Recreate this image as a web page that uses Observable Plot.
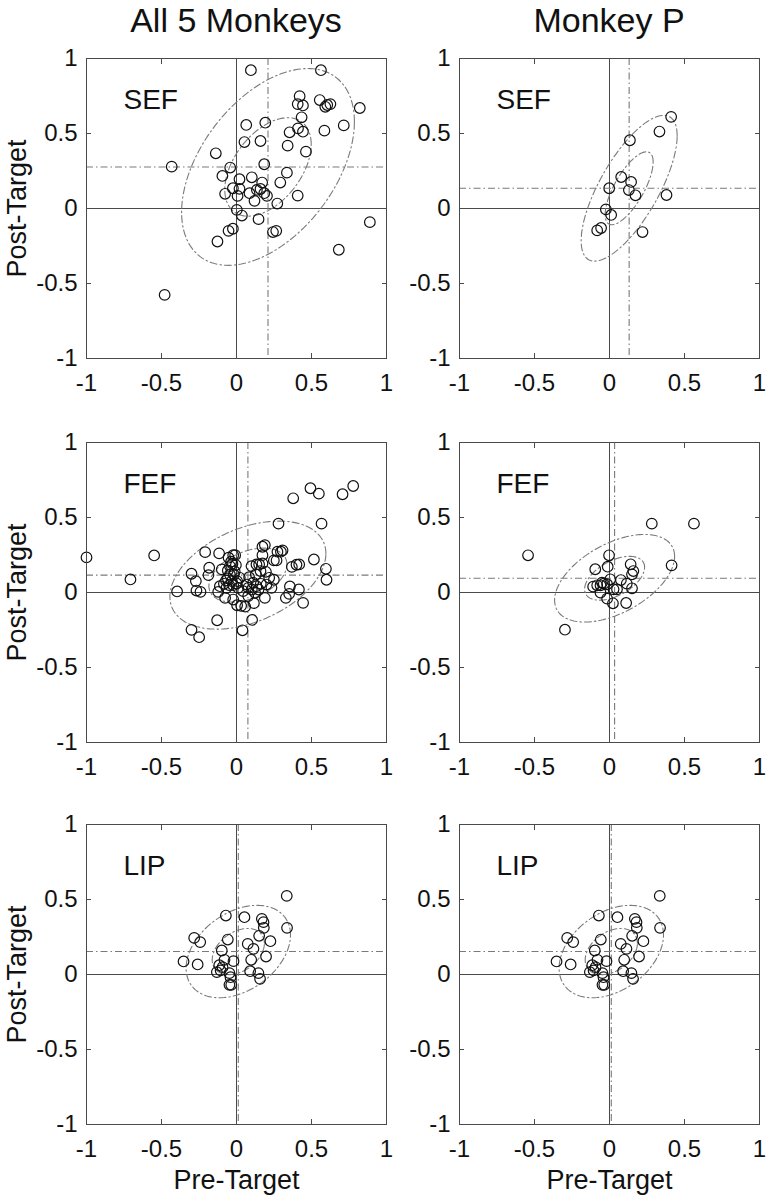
<!DOCTYPE html>
<html><head><meta charset="utf-8">
<script src="https://cdn.jsdelivr.net/npm/d3@7"></script>
<script src="https://cdn.jsdelivr.net/npm/@observablehq/plot@0.6"></script>
<style>
body{margin:0;background:#fff;}
#wrap{position:relative;width:767px;height:1199px;font-family:"Liberation Sans",Arial,Helvetica,sans-serif;overflow:hidden;}
.title{position:absolute;top:3px;height:34px;line-height:34px;font-size:34px;text-align:center;color:#111;width:300px;}
.panel{position:absolute;}
</style></head><body><div id="wrap"></div>
<script>
// ---------- data ----------
const columnTitles = ["All 5 Monkeys", "Monkey P"];
const panelNames = ["SEF", "SEF", "FEF", "FEF", "LIP", "LIP"];
const xLabel = "Pre-Target";
const yLabel = "Post-Target";
const tickValues = [-1, -0.5, 0, 0.5, 1];
const axisDomain = [-1, 1];
const zeroLine = [0];

const sefAll = [
  [0.096,0.922],[0.563,0.922],[0.421,0.749],[0.408,0.696],[0.443,0.687],[0.555,0.723],
  [0.592,0.678],[0.626,0.696],[0.605,0.690],[0.822,0.670],[0.434,0.608],[0.065,0.557],[0.192,0.572],
  [0.410,0.534],[0.354,0.508],[0.443,0.512],[0.586,0.519],[0.715,0.554],[0.053,0.443],
  [0.160,0.450],[0.341,0.419],[0.463,0.379],[-0.138,0.368],[-0.432,0.279],[-0.042,0.273],
  [0.185,0.295],[-0.094,0.217],[0.336,0.239],[0.102,0.208],[0.020,0.195],[0.171,0.173],
  [0.292,0.173],[-0.024,0.135],[0.020,0.131],[-0.076,0.098],[0.087,0.102],[0.136,0.124],
  [0.185,0.102],[0.007,0.084],[0.120,0.051],[0.203,0.084],[0.408,0.086],[0.272,0.033],
  [0.002,-0.009],[0.036,-0.047],[0.147,-0.071],[-0.053,-0.149],[-0.024,-0.135],[0.243,-0.157],
  [0.265,-0.149],[-0.127,-0.220],[0.889,-0.091],[0.682,-0.275],[-0.479,-0.576],[0.160,0.130]
];
const sefP = [
  [0.411,0.611],[0.333,0.513],[0.136,0.455],[0.078,0.210],[0.144,0.177],[-0.002,0.135],
  [0.129,0.123],[0.173,0.088],[0.380,0.090],[-0.024,-0.006],[0.011,-0.043],[-0.056,-0.130],
  [-0.082,-0.146],[0.220,-0.157]
];
const fefAll = [
  [-1.0,0.234],[-0.707,0.087],[-0.549,0.247],[-0.396,0.007],[-0.30,0.125],[-0.271,0.076],
  [-0.267,0.013],[-0.24,0.004],[-0.209,0.269],[-0.182,0.165],[-0.187,0.116],[-0.122,0.004],
  [-0.116,0.261],[-0.098,0.154],[-0.111,0.042],[-0.076,-0.036],[-0.129,-0.185],[-0.30,-0.249],
  [-0.249,-0.298],
  [-0.053,0.232],[-0.022,0.249],[-0.009,0.249],[-0.044,0.176],[-0.027,0.192],[-0.004,0.183],
  [-0.058,0.147],[-0.044,0.12],[-0.018,0.12],[-0.058,0.094],[-0.031,0.076],[-0.084,0.058],
  [-0.049,0.049],[-0.022,0.049],[0.004,0.076],[0.022,0.098],[0.011,0.031],[-0.022,-0.047],
  [0.004,-0.085],[0.031,-0.089],[0.058,-0.094],[0.04,-0.252],[-0.067,0.031],[0.044,0.009],
  [-0.036,0.205],[-0.012,0.14],[0.0,0.06],[-0.07,0.08],
  [0.078,-0.024],[0.116,-0.071],[0.104,-0.183],[0.067,0.053],[0.084,0.102],[0.1,0.176],
  [0.133,0.187],[0.151,0.187],[0.129,0.12],[0.16,0.143],[0.111,0.065],[0.133,0.042],
  [0.102,0.02],[0.124,-0.002],[0.162,0.058],[0.147,0.02],[0.078,0.031],[0.173,0.249],
  [0.189,0.316],[0.173,0.305],[0.173,0.194],[0.2,0.053],[0.189,-0.036],[0.218,0.098],[0.196,0.138],
  [0.249,0.214],[0.267,0.214],[0.273,0.272],[0.296,0.272],[0.307,0.281],[0.28,0.459],
  [0.249,0.085],[0.233,0.031],[0.329,-0.036],[0.351,-0.009],[0.356,0.04],[0.369,0.171],
  [0.4,0.185],[0.418,0.187],[0.416,0.02],[0.444,-0.069],[0.378,0.628],[0.493,0.695],
  [0.549,0.659],[0.567,0.459],[0.516,0.22],[0.596,0.158],[0.6,0.085],[0.707,0.655],[0.778,0.71]
];
const fefP = [
  [-0.543,0.248],[-0.297,-0.248],[0.282,0.459],[0.563,0.459],[0.414,0.181],[-0.003,0.248],
  [-0.012,0.172],[-0.095,0.155],[0.141,0.188],[0.159,0.143],[0.15,0.121],[0.076,0.083],
  [0.115,0.059],[0.15,0.028],[0.005,0.088],[-0.05,0.066],[-0.06,0.048],[-0.109,0.039],
  [-0.016,0.055],[0.027,0.021],[0.05,0.021],[-0.06,-0.001],[-0.016,-0.041],[0.023,-0.072],
  [0.111,-0.07],[-0.038,0.059],[-0.082,0.048]
];
const lip = [
  [0.335,0.524],[0.337,0.311],[-0.071,0.393],[0.053,0.382],[0.169,0.371],[0.18,0.349],
  [0.182,0.311],[0.151,0.258],[0.226,0.222],[-0.058,0.233],[-0.282,0.244],[-0.242,0.216],
  [0.075,0.204],[0.113,0.171],[0.197,0.12],[0.098,0.098],[0.091,0.022],[0.146,0.009],
  [0.157,-0.029],[-0.098,0.16],[-0.08,0.098],[-0.02,0.089],[-0.353,0.087],[-0.259,0.067],
  [-0.115,0.062],[-0.093,0.049],[-0.131,0.016],[-0.106,0.027],[-0.047,0.009],[-0.04,-0.018],
  [-0.047,-0.069],[-0.035,-0.069]
];
const panelData = [sefAll, sefP, fefAll, fefP, lip, lip];

// population mean (dash-dot cross) and spread (1 and 2 SD ellipses), per panel
const meanX = [0.21, 0.131, 0.076, 0.034, 0.012, 0.012];
const meanY = [0.277, 0.135, 0.116, 0.095, 0.153, 0.153];
const sdX   = [0.288, 0.16, 0.26, 0.20, 0.174, 0.174];
const sdY   = [0.328, 0.243, 0.18, 0.146, 0.154, 0.154];
const corrXY = [0.46, 0.72, 0.40, 0.50, 0.36, 0.36];
const ellipseK = [1, 2];

// ---------- layout / style ----------
const FRAME = 300;
const colLeft = [86, 459];
const rowTop = [58, 442, 824];
const frameColor = "#4a4a4a";
const dashColor = "#7a7a7a";
const dashPattern = "7,3,1.5,3";
const fontFamily = '"Liberation Sans", Arial, Helvetica, sans-serif';
const fmt = d => String(d);

const wrap = document.getElementById("wrap");

columnTitles.forEach((t, c) => {
  const div = document.createElement("div");
  div.className = "title";
  div.style.left = (colLeft[c]) + "px";
  div.textContent = t;
  wrap.appendChild(div);
});

function panel(i) {
  const col = i % 2, row = Math.floor(i / 2);
  const mL = 86, mR = 8, mT = 12, mB = row === 2 ? 76 : 45;
  const W = mL + FRAME + mR, H = mT + FRAME + mB;
  const ell = [];
  for (const k of ellipseK) {
    for (let j = 0; j <= 160; j++) {
      const t = 2 * Math.PI * j / 160;
      const r = corrXY[i];
      ell.push({k,
        x: meanX[i] + k * sdX[i] * Math.cos(t),
        y: meanY[i] + k * sdY[i] * (r * Math.cos(t) + Math.sqrt(1 - r * r) * Math.sin(t))});
    }
  }
  const marks = [
    Plot.ruleX(zeroLine, {stroke: frameColor, strokeWidth: 1}),
    Plot.ruleY(zeroLine, {stroke: frameColor, strokeWidth: 1}),
    Plot.ruleX([meanX[i]], {stroke: dashColor, strokeWidth: 1.1, strokeDasharray: dashPattern}),
    Plot.ruleY([meanY[i]], {stroke: dashColor, strokeWidth: 1.1, strokeDasharray: dashPattern}),
    Plot.line(ell, {x: "x", y: "y", z: "k", stroke: dashColor, strokeWidth: 1.1, strokeDasharray: dashPattern}),
    Plot.dot(panelData[i], {x: d => d[0], y: d => d[1], r: 5.3, stroke: "#111", strokeWidth: 1.2, fill: "none"}),
    Plot.frame({stroke: frameColor, strokeWidth: 1}),
    Plot.axisX({anchor: "bottom", ticks: tickValues, tickSize: -5, tickPadding: 20, tickFormat: fmt, stroke: frameColor, fill: "#111", fontSize: 24, label: null}),
    Plot.axisX({anchor: "top", ticks: tickValues, tickSize: -5, tickFormat: () => "", stroke: frameColor, label: null}),
    Plot.axisY({anchor: "left", ticks: tickValues, tickSize: -5, tickPadding: 14, tickFormat: fmt, stroke: frameColor, fill: "#111", fontSize: 24, label: null}),
    Plot.axisY({anchor: "right", ticks: tickValues, tickSize: -5, tickFormat: () => "", stroke: frameColor, label: null}),
    Plot.text([panelNames[i]], {text: d => d, frameAnchor: "top-left", dx: 37, dy: 31, textAnchor: "start", lineAnchor: "top", fontSize: 28, fill: "#111"})
  ];
  if (col === 0) marks.push(Plot.text([yLabel], {text: d => d, frameAnchor: "left", rotate: -90, dx: -69, textAnchor: "middle", lineAnchor: "middle", fontSize: 27, fill: "#111"}));
  if (row === 2) marks.push(Plot.text([xLabel], {text: d => d, frameAnchor: "bottom", dy: 64, textAnchor: "middle", lineAnchor: "bottom", fontSize: 27, fill: "#111"}));
  const svg = Plot.plot({
    width: W, height: H,
    marginLeft: mL, marginRight: mR, marginTop: mT, marginBottom: mB,
    x: {domain: axisDomain},
    y: {domain: axisDomain},
    style: {fontFamily, fontSize: "24px", background: "transparent", overflow: "visible"},
    marks
  });
  const holder = document.createElement("div");
  holder.className = "panel";
  holder.style.left = (colLeft[col] - mL) + "px";
  holder.style.top = (rowTop[row] - mT) + "px";
  holder.appendChild(svg);
  wrap.appendChild(holder);
}
for (let i = 0; i < 6; i++) panel(i);
</script>
</body></html>
